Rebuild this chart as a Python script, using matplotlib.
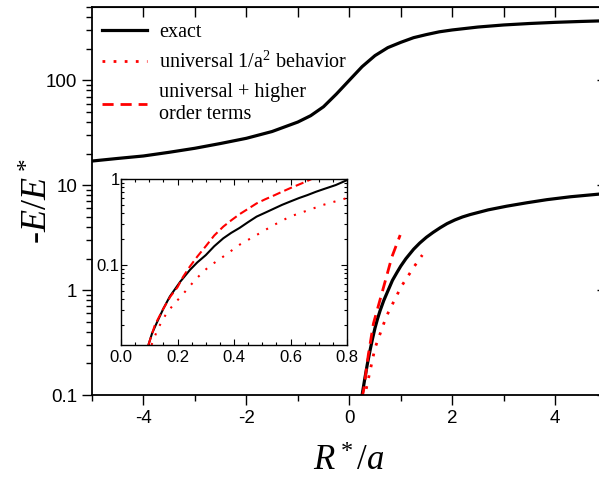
import matplotlib
matplotlib.use("Agg")
import matplotlib.pyplot as plt
from matplotlib.ticker import LogLocator, MultipleLocator, NullFormatter, FixedLocator

plt.rcParams['mathtext.fontset'] = 'custom'
plt.rcParams['mathtext.rm'] = 'Liberation Serif'
plt.rcParams['mathtext.it'] = 'Liberation Serif:italic'
plt.rcParams['axes.unicode_minus'] = False

# ---- data (main panel) ----
upper_x = [-5.0, -4.5, -4.0, -3.5, -3.0, -2.5, -2.0, -1.5, -1.0, -0.75, -0.5, -0.25, 0.0,
           0.25, 0.5, 0.75, 1.0, 1.25, 1.5, 1.75, 2.0, 2.5, 3.0, 3.5, 4.0, 4.5, 5.0]
upper_y = [17.0, 18.0, 19.0, 20.6, 22.5, 25.0, 28.0, 32.5, 40.0, 46.0, 56.0, 74.0, 100.0,
           135.0, 172.0, 205.0, 230.0, 255.0, 273.0, 290.0, 302.0, 322.0, 337.0, 348.0, 357.0, 364.0, 370.0]

lower_x = [0.25, 0.30, 0.35, 0.41, 0.45, 0.50, 0.55, 0.60, 0.67, 0.75, 0.84, 0.93, 1.00, 1.10, 1.25,
           1.37, 1.50, 1.63, 1.77, 1.90, 2.05, 2.20, 2.35, 2.70, 3.06, 3.45, 3.84, 4.30, 4.85, 5.0]
lower_y = [0.10, 0.141, 0.195, 0.275, 0.34, 0.434, 0.533, 0.638, 0.794, 0.98, 1.24, 1.48, 1.69, 1.99, 2.45,
           2.81, 3.19, 3.55, 3.94, 4.30, 4.66, 4.98, 5.25, 5.82, 6.31, 6.80, 7.28, 7.76, 8.22, 8.34]

dash_x = [0.25, 0.28, 0.37, 0.47, 0.67, 0.83, 0.99]
dash_y = [0.095, 0.112, 0.24, 0.48, 1.08, 2.08, 3.35]

dot_x = [0.29, 0.31, 0.50, 0.72, 1.01, 1.27, 1.42]
dot_y = [0.09, 0.103, 0.28, 0.56, 1.08, 1.70, 2.16]

# ---- data (inset) ----
in_exact_x = [0.097, 0.11, 0.126, 0.15, 0.173, 0.21, 0.244, 0.27, 0.30, 0.33, 0.362, 0.39, 0.42, 0.45, 0.48,
              0.51, 0.54, 0.57, 0.598, 0.63, 0.66, 0.69, 0.716, 0.76, 0.80]
in_exact_y = [0.0117, 0.016, 0.021, 0.031, 0.043, 0.064, 0.0875, 0.107, 0.13, 0.165, 0.204, 0.236, 0.27,
              0.315, 0.365, 0.405, 0.45, 0.50, 0.545, 0.60, 0.65, 0.71, 0.76, 0.85, 0.97]

in_dash_x = [0.097, 0.12, 0.15, 0.175, 0.20, 0.22, 0.244, 0.27, 0.30, 0.33, 0.362, 0.39, 0.42, 0.45, 0.48,
             0.51, 0.54, 0.57, 0.598, 0.64, 0.675, 0.72]
in_dash_y = [0.0117, 0.02, 0.031, 0.043, 0.055, 0.073, 0.096, 0.125, 0.165, 0.22, 0.279, 0.33, 0.39,
             0.45, 0.52, 0.58, 0.64, 0.71, 0.78, 0.89, 1.0, 1.15]

in_dot_x = [0.108, 0.13, 0.16, 0.19, 0.21, 0.24, 0.268, 0.31, 0.362, 0.42, 0.48, 0.54, 0.598, 0.66, 0.716, 0.76, 0.80]
in_dot_y = [0.0117, 0.018, 0.027, 0.036, 0.042, 0.055, 0.07, 0.095, 0.125, 0.172, 0.223, 0.29, 0.365,
            0.43, 0.50, 0.55, 0.60]

labels = ["exact", "universal 1/a$^2$ behavior", "universal + higher\norder terms"]

fig = plt.figure(figsize=(5.99, 4.8), dpi=100)
ax = fig.add_axes([92/599, 85/480, 514.5/599, 388/480])

ax.plot(upper_x, upper_y, color='black', lw=2.3, label=labels[0])
ax.plot(lower_x, lower_y, color='black', lw=2.3)
ax.plot(dot_x, dot_y, color='red', lw=2.0, linestyle=(0, (1, 3)), label=labels[1])
ax.plot(dash_x, dash_y, color='red', lw=2.0, linestyle=(0, (4, 2.5)), label=labels[2])

ax.set_yscale('log')
ax.set_xlim(-5, 5)
ax.set_ylim(0.1, 500)
ax.xaxis.set_major_locator(FixedLocator([-4, -2, 0, 2, 4]))
ax.xaxis.set_minor_locator(FixedLocator([-5, -3, -1, 1, 3, 5]))
ax.yaxis.set_minor_locator(LogLocator(base=10, subs=range(2, 10), numticks=20))
ax.yaxis.set_minor_formatter(NullFormatter())
ax.set_yticks([0.1, 1, 10, 100])
ax.set_yticklabels(['0.1', '1', '10', '100'])
ax.tick_params(which='major', direction='out', length=7, width=1.0, labelsize=13.5)
ax.tick_params(which='minor', direction='out', length=4, width=1.0)
for lab in ax.get_xticklabels() + ax.get_yticklabels():
    lab.set_family('Liberation Sans')
for sp in ax.spines.values():
    sp.set_linewidth(1.3)

# top/right inward ticks
axt = ax.secondary_xaxis('top')
axt.set_xticks([-4, -3, -2, -1, 0, 1, 2, 3, 4])
axt.tick_params(direction='in', length=7, width=1.0, labeltop=False)
axr = ax.secondary_yaxis('right')
axr.set_yscale('log')
axr.set_yticks([0.1, 1, 10, 100])
axr.yaxis.set_minor_locator(FixedLocator([]))
axr.tick_params(direction='in', length=7, width=1.0, labelright=False)

ax.set_xlabel(r"$R^*/a$", fontsize=25, family='Liberation Serif', labelpad=13)
ax.set_ylabel(r"-$E/E^*$", fontsize=26, family='Liberation Serif', labelpad=-7)

leg = ax.legend(loc='upper left', frameon=False, prop={'family': 'Liberation Serif', 'size': 14.5},
                handlelength=2.25, handletextpad=0.6, labelspacing=0.5,
                borderaxespad=0.1, bbox_to_anchor=(0.0, 0.985))

# ---- inset ----
ins = fig.add_axes([121/599, 135/480, 226/599, 166/480])
ins.plot(in_exact_x, in_exact_y, color='black', lw=1.5)
ins.plot(in_dash_x, in_dash_y, color='red', lw=1.5, linestyle=(0, (4, 2)))
ins.plot(in_dot_x, in_dot_y, color='red', lw=1.5, linestyle=(0, (1, 4)))
ins.set_yscale('log')
ins.set_xlim(0, 0.8)
ins.set_ylim(0.0117, 1.0)
ins.set_xticks([0.0, 0.2, 0.4, 0.6, 0.8])
ins.set_xticklabels(['0.0', '0.2', '0.4', '0.6', '0.8'])
ins.xaxis.set_minor_locator(MultipleLocator(0.05))
ins.set_yticks([0.1, 1])
ins.set_yticklabels(['0.1', '1'])
ins.yaxis.set_minor_locator(LogLocator(base=10, subs=range(2, 10), numticks=20))
ins.yaxis.set_minor_formatter(NullFormatter())
ins.tick_params(which='both', direction='in', top=True, right=True, labelsize=12, width=0.8)
ins.tick_params(which='major', length=4)
ins.tick_params(which='minor', length=2)
for lab in ins.get_xticklabels() + ins.get_yticklabels():
    lab.set_family('Liberation Sans')
ins.tick_params(axis='y', pad=1)
for sp in ins.spines.values():
    sp.set_linewidth(1.0)

fig.savefig("out.png", dpi=100)
